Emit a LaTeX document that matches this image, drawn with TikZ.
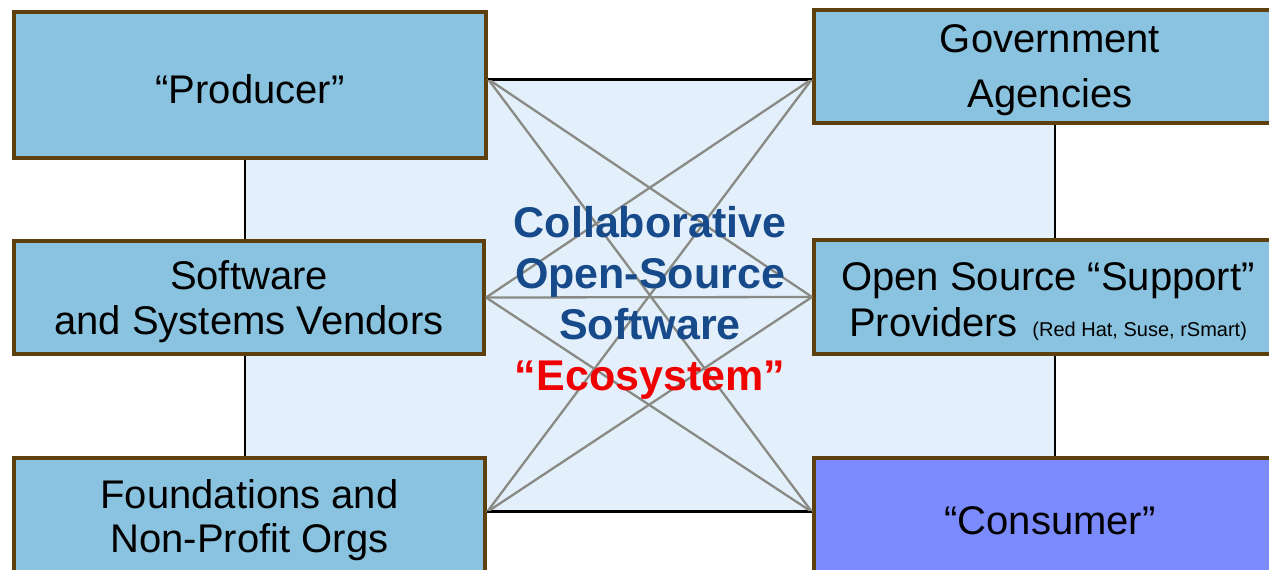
\documentclass[tikz,border=0pt]{standalone}
\usepackage{fontspec}
\setmainfont{Liberation Sans}
\definecolor{boxfill}{HTML}{8AC3E0}
\definecolor{consfill}{HTML}{7B8BFE}
\definecolor{boxedge}{HTML}{5E3F0E}
\definecolor{bgfill}{HTML}{E3F0FB}
\definecolor{linkgray}{HTML}{8A8A84}
\definecolor{ecoblue}{HTML}{174A8A}
\definecolor{ecored}{HTML}{F00000}
\begin{document}
\begin{tikzpicture}[x=1pt,y=-1pt,
  party/.style={draw=boxedge, line width=4pt, fill=boxfill, inner sep=0pt},
  label/.style={align=center, yshift=-4pt},
  link/.style={draw=linkgray, line width=2.3pt},
  hub/.style={draw=black, line width=2pt, fill=bgfill}]
\useasboundingbox (0,0) rectangle (1269,570);
\clip (0,0) rectangle (1269,570);

% shared ecosystem area
\node[hub, minimum width=810pt, minimum height=431pt, inner sep=0pt] (bg) at (650,295.5) {};

% participant boxes (positions only; contents below)
\node[party, minimum width=472pt, minimum height=146pt] (prod) at (250,85) {};
\node[party, minimum width=470pt, minimum height=113pt] (vend) at (249,297.5) {};
\node[party, minimum width=471pt, minimum height=117pt] (found) at (249.5,516.5) {};
\node[party, minimum width=472pt, minimum height=113pt] (gov) at (1050,66.5) {};
\node[party, minimum width=472pt, minimum height=114pt] (supp) at (1050,297) {};
\node[party, fill=consfill, minimum width=472pt, minimum height=117pt] (cons) at (1050,516.5) {};

% link end points
\coordinate (L1) at (prod.east |- bg.north);
\coordinate (L2) at (vend.east);
\coordinate (L3) at (found.east |- bg.south);
\coordinate (R1) at (gov.west |- bg.north);
\coordinate (R2) at (supp.west);
\coordinate (R3) at (cons.west |- bg.south);

% every left party linked to every right party
\foreach \a in {L1,L2,L3}
  \foreach \b in {R1,R2,R3}
    \draw[link] (\a) -- (\b);
\draw[black, line width=1.5pt] (L1) -- (R1) (L3) -- (R3);

% box labels
\node[label, font=\fontsize{40}{45}\selectfont] (tprod) at (prod.center) {“Producer”};
\node[label, font=\fontsize{40}{45}\selectfont] (tvend) at (vend.center) {Software\\and Systems Vendors};
\node[label, font=\fontsize{40}{44}\selectfont] (tfound) at (found.center) {Foundations and\\Non-Profit Orgs};
\node[label, font=\fontsize{40}{55}\selectfont] (tgov) at (gov.center) {Government\\Agencies};
\node[label, font=\fontsize{40}{46}\selectfont] (tsupp) at (1048,298) {Open Source “Support”\\Providers {\fontsize{20}{21}\selectfont\,(Red Hat, Suse, rSmart)}};
\node[label, font=\fontsize{40}{45}\selectfont] (tcons) at (cons.center) {“Consumer”};

% central title
\node[align=center, font=\fontsize{43}{51}\selectfont\bfseries, text=ecoblue] (title) at (650,302.5)
  {Collaborative\\Open-Source\\Software\\\textcolor{ecored}{“Ecosystem”}};
\end{tikzpicture}
\end{document}
